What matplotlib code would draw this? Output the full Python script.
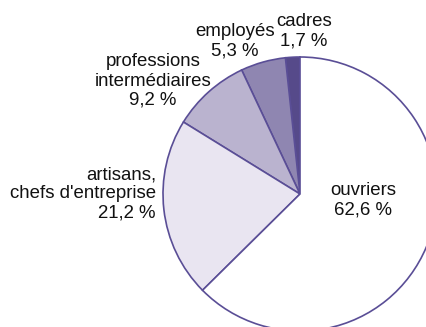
import matplotlib.pyplot as plt

# Share of each social category (%)
categories = ['cadres', 'employés', 'professions\nintermédiaires',
              'artisans,\nchefs d\'entreprise', 'ouvriers']
shares = [1.7, 5.3, 9.2, 21.2, 62.6]
share_labels = ['1,7 %', '5,3 %', '9,2 %', '21,2 %', '62,6 %']

colors = ['#564a8a', '#8f86b1', '#bab3cf', '#e9e5f1', '#ffffff']
edge = '#5a4e96'

W, H = 426, 327
fig = plt.figure(figsize=(W / 100, H / 100), dpi=100)
ax = fig.add_axes([0, 0, 1, 1])

ax.pie(shares, colors=colors, startangle=90, counterclock=True,
       center=(300, 133), radius=137, frame=True,
       wedgeprops=dict(edgecolor=edge, linewidth=1.2))
ax.set_xlim(0, W)
ax.set_ylim(0, H)
ax.set_aspect('equal')
ax.axis('off')

# label anchor: (x, y, horizontal alignment)
label_pos = [(304, 296, 'center'), (235, 286, 'center'), (153, 246, 'center'),
             (156, 133, 'right'), (363, 127, 'center')]
for cat, lab, (x, y, ha) in zip(categories, share_labels, label_pos):
    ax.text(x, y, f'{cat}\n{lab}', ha=ha, va='center', multialignment=ha,
            fontsize=13.4, color='#111111', family=['Liberation Sans', 'DejaVu Sans'],
            linespacing=1.17)

fig.savefig('out.png', dpi=100)
